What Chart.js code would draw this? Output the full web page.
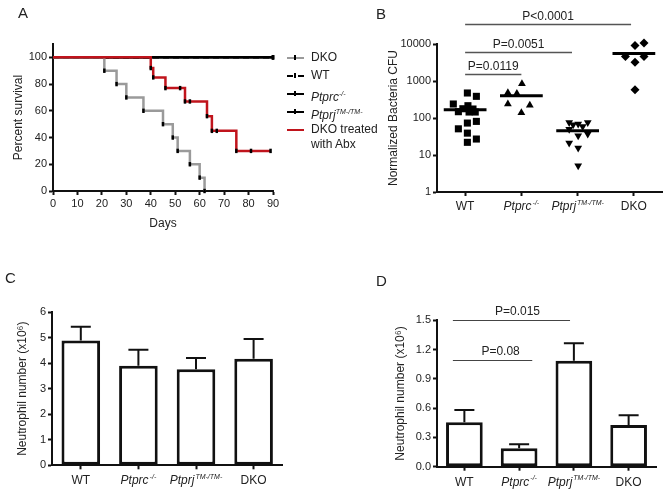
<!DOCTYPE html>
<html>
<head>
<meta charset="utf-8">
<script src="https://cdn.jsdelivr.net/npm/chart.js@4.4.1/dist/chart.umd.min.js"></script>
<style>
  body { margin: 0; background: #fff; }
  #wrap { position: relative; width: 667px; height: 494px; overflow: hidden;
          font-family: "Liberation Sans", Arial, sans-serif; color: #222; }
  canvas { position: absolute; }
  .letter { position: absolute; font-size: 15px; line-height: 15px; }
  #legendA { position: absolute; left: 287px; top: 49px; font-size: 12px; z-index: 5; }
  .lg { position: relative; height: 18px; line-height: 18px; white-space: nowrap; }
  .lg .sym { position: absolute; left: 0; top: 8px; width: 17px; height: 0; }
  .lg .sym b { position: absolute; left: 7px; top: -4px; width: 2px; height: 5px; background: #000; }
  .lg .txt { position: absolute; left: 24px; top: 0; line-height: 15px; padding-top: 1px; }
  .lg sup { font-size: 7px; }
</style>
</head>
<body>
<div id="wrap">
  <canvas id="chartA" width="290" height="240" style="left:0;top:0"></canvas>
  <canvas id="chartB" width="327" height="240" style="left:340px;top:0"></canvas>
  <canvas id="chartC" width="300" height="247" style="left:0;top:247px"></canvas>
  <canvas id="chartD" width="327" height="247" style="left:340px;top:247px"></canvas>
  <div class="letter" style="left:18px;top:5px">A</div>
  <div class="letter" style="left:376px;top:6px">B</div>
  <div class="letter" style="left:5px;top:270px">C</div>
  <div class="letter" style="left:376px;top:273px">D</div>
  <div id="legendA"></div>
</div>
<script>
// ---- data ----
// genotype groups (x categories of B, C, D)
const groupNames = ['WT', 'Ptprc', 'Ptprj', 'DKO'];
const groupSups = ['', '-/-', 'TM-/TM-', ''];
const groupItalic = [false, true, true, false];

// A: survival curves (days, percent)
const survNames = ['DKO', 'WT', 'Ptprc', 'Ptprj', 'DKO treated\nwith Abx'];
const survSups = ['', '', '-/-', 'TM-/TM-', ''];
const dkoDays = [0, 21, 26, 30, 37, 45, 49, 51, 56, 60, 62];
const dkoSurv = [100, 90, 80, 70, 60, 50, 40, 30, 20, 10, 0];
const wtDays = [0, 90];
const wtSurv = [100, 100];
const ptprcDays = [0, 90];
const ptprcSurv = [100, 100];
const ptprjDays = [0, 90];
const ptprjSurv = [100, 100];
const abxDays = [0, 40, 41, 46, 52, 54, 56, 63, 65, 67, 75, 81, 89];
const abxSurv = [100, 92, 85, 77, 77, 67, 67, 56, 45, 45, 30, 30, 30];
const dayTicks = [0, 10, 20, 30, 40, 50, 60, 70, 80, 90];
const survTicks = [0, 20, 40, 60, 80, 100];

// B: normalized bacteria CFU per mouse, jitter in category units
const cfuWT = [474, 385, 239, 215, 178, 175, 148, 145, 145, 81, 73, 51, 39, 27, 22];
const jitWT = [0.04, 0.2, -0.21, 0.05, -0.04, 0.14, -0.12, 0.07, 0.18, 0.2, 0.04, -0.12, 0.04, 0.2, 0.04];
const cfuPtprc = [840, 480, 460, 240, 220, 138];
const jitPtprc = [0.01, -0.24, -0.08, -0.24, 0.15, 0];
const cfuPtprj = [76, 66, 69, 59, 76, 50, 33, 37, 21, 15.5, 5.1];
const jitPtprj = [-0.15, -0.08, 0.01, 0.09, 0.18, -0.15, 0.01, 0.18, -0.15, 0.01, 0.01];
const cfuDKO = [9100, 10700, 4600, 4600, 3200, 580];
const jitDKO = [0.02, 0.18, -0.15, 0.18, 0.02, 0.02];
const cfuMeans = [168, 400, 45, 5500];
const cfuTicks = [1, 10, 100, 1000, 10000];

// C: bone marrow neutrophils (x10^6), mean and SEM
const neuC = [4.88, 3.9, 3.76, 4.17];
const semC = [0.54, 0.62, 0.44, 0.77];
// D: neutrophils (x10^6), mean and SEM
const neuD = [0.455, 0.19, 1.086, 0.427];
const semD = [0.125, 0.04, 0.18, 0.1];

const FONT = '"Liberation Sans", Arial, sans-serif';
const RED = '#c0141c';
const GREY = '#9a9a9a';
Chart.defaults.font.family = FONT;
Chart.defaults.color = '#222';
Chart.defaults.animation = false;
Chart.defaults.plugins.legend.display = false;
Chart.defaults.plugins.tooltip.enabled = false;

// ---- plugins ----
// x labels with italic names and superscripts
const richTicks = {
  id: 'richTicks',
  afterDraw(chart, args, opts) {
    if (!opts.at) return;
    const ctx = chart.ctx, xs = chart.scales.x;
    ctx.save();
    ctx.fillStyle = '#222';
    ctx.textBaseline = 'middle';
    ctx.textAlign = 'left';
    groupNames.forEach((name, i) => {
      const it = groupItalic[i] ? 'italic ' : '';
      const main = it + '12px ' + FONT, small = it + '7px ' + FONT;
      ctx.font = main;
      const w1 = ctx.measureText(name).width;
      ctx.font = small;
      const w2 = groupSups[i] ? ctx.measureText(groupSups[i]).width + 1 : 0;
      const x0 = xs.getPixelForValue(opts.at[i]) - (w1 + w2) / 2;
      const y = chart.chartArea.bottom + opts.offset;
      ctx.font = main;
      ctx.fillText(name, x0, y);
      if (w2) {
        ctx.font = small;
        ctx.fillText(groupSups[i], x0 + w1 + 1, y - 4);
      }
    });
    ctx.restore();
  }
};

// significance lines with P values
const brackets = {
  id: 'brackets',
  afterDraw(chart, args, opts) {
    if (!opts.items) return;
    const ctx = chart.ctx, xs = chart.scales.x, ys = chart.scales.y;
    ctx.save();
    ctx.strokeStyle = opts.color;
    ctx.lineWidth = opts.width;
    ctx.fillStyle = '#222';
    ctx.font = '12px ' + FONT;
    ctx.textAlign = 'center';
    ctx.textBaseline = 'alphabetic';
    opts.items.forEach(b => {
      const x1 = xs.getPixelForValue(b.from), x2 = xs.getPixelForValue(b.to);
      const py = Math.round(ys.getPixelForValue(b.y)) + 0.5;
      ctx.beginPath();
      ctx.moveTo(x1, py);
      ctx.lineTo(x2, py);
      ctx.stroke();
      ctx.fillText(b.text, (x1 + x2) / 2 + (b.dx || 0), py - opts.gap);
    });
    ctx.restore();
  }
};

// upper SEM bars on top of the bars
const errorBars = {
  id: 'errorBars',
  afterDatasetsDraw(chart, args, opts) {
    if (!opts.sem) return;
    const ctx = chart.ctx, ys = chart.scales.y;
    const vals = chart.data.datasets[0].data;
    ctx.save();
    ctx.strokeStyle = '#111';
    ctx.lineWidth = 2;
    chart.getDatasetMeta(0).data.forEach((bar, i) => {
      const top = ys.getPixelForValue(vals[i] + opts.sem[i]);
      ctx.beginPath();
      ctx.moveTo(bar.x, bar.y);
      ctx.lineTo(bar.x, top);
      ctx.moveTo(bar.x - opts.cap / 2, top);
      ctx.lineTo(bar.x + opts.cap / 2, top);
      ctx.stroke();
    });
    ctx.restore();
  }
};

function axisBase() {
  return {
    border: { color: '#111', width: 2 },
    grid: { drawOnChartArea: false, drawTicks: true, tickLength: 4, tickColor: '#111', tickWidth: 2 },
    ticks: { font: { size: 11 }, color: '#222', padding: 2 }
  };
}

// ---- A: survival ----
const toXY = (d, s) => d.map((x, i) => ({ x: x, y: s[i] }));
const survData = [toXY(dkoDays, dkoSurv), toXY(wtDays, wtSurv), toXY(ptprcDays, ptprcSurv),
                  toXY(ptprjDays, ptprjSurv), toXY(abxDays, abxSurv)];
const survColors = [GREY, '#000', '#000', '#000', RED];
const survDash = [[], [6, 4], [], [], []];
const survOrder = [1, 1, 1, 1, 0];

const ayA = axisBase();
ayA.min = 0; ayA.max = 110;
ayA.afterBuildTicks = s => { s.ticks = survTicks.map(v => ({ value: v })); };
ayA.afterFit = s => { s.width = 53; };
ayA.title = { display: true, text: 'Percent survival', font: { size: 12 }, padding: { top: 11, bottom: 0 } };
const axA = axisBase();
axA.type = 'linear'; axA.min = 0; axA.max = 90;
axA.afterBuildTicks = s => { s.ticks = dayTicks.map(v => ({ value: v })); };
axA.afterFit = s => { s.height = 49; };
axA.title = { display: true, text: 'Days', font: { size: 12 }, padding: { top: 0, bottom: 9 } };

new Chart(document.getElementById('chartA'), {
  type: 'line',
  data: {
    datasets: survData.map((d, i) => ({
      data: d,
      order: survOrder[i],
      borderColor: survColors[i],
      borderDash: survDash[i],
      borderWidth: 2.5,
      stepped: true,
      fill: false,
      pointStyle: 'line',
      rotation: 90,
      pointRadius: ctx => ctx.dataIndex === 0 ? 0 : 2.2,
      pointBorderColor: '#000',
      pointBorderWidth: 2.5,
      clip: false
    }))
  },
  options: {
    responsive: false,
    layout: { padding: { left: 0, top: 44, right: 17, bottom: 0 } },
    scales: { x: axA, y: ayA }
  }
});

// legend of A
const legendA = document.getElementById('legendA');
survNames.forEach((name, i) => {
  const row = document.createElement('div');
  row.className = 'lg';
  const ital = survSups[i] ? '<i>' + name + '</i><sup><i>' + survSups[i] + '</i></sup>' : name.replace('\n', '<br>');
  const style = survDash[i].length ? 'dashed' : 'solid';
  const tick = survColors[i] === RED ? '' : '<b></b>';
  row.innerHTML = '<span class="sym" style="border-top:2.5px ' + style + ' ' + survColors[i] + '">' + tick +
                  '</span><span class="txt">' + ital + '</span>';
  legendA.appendChild(row);
});

// ---- B: bacteria CFU ----
const groupsB = [cfuWT, cfuPtprc, cfuPtprj, cfuDKO];
const jitB = [jitWT, jitPtprc, jitPtprj, jitDKO];
const shapesB = ['rect', 'triangle', 'triangle', 'rectRot'];
const rotB = [0, 0, 180, 0];
const radB = [5, 4.5, 4.5, 4.5];
const scatterSets = groupsB.map((vals, g) => ({
  type: 'scatter',
  data: vals.map((v, i) => ({ x: g + 1 + jitB[g][i], y: v })),
  pointStyle: shapesB[g],
  rotation: rotB[g],
  pointRadius: radB[g],
  pointBackgroundColor: '#000',
  pointBorderWidth: 0,
  clip: false
}));
const meanSets = cfuMeans.map((m, g) => ({
  type: 'line',
  data: [{ x: g + 1 - 0.38, y: m }, { x: g + 1 + 0.38, y: m }],
  borderColor: '#000',
  borderWidth: 3,
  pointRadius: 0,
  clip: false
}));

const ayB = axisBase();
ayB.type = 'logarithmic'; ayB.min = 1; ayB.max = 10000;
ayB.afterBuildTicks = s => { s.ticks = cfuTicks.map(v => ({ value: v })); };
ayB.ticks.callback = v => String(v);
ayB.afterFit = s => { s.width = 97; };
ayB.title = { display: true, text: 'Normalized Bacteria CFU', font: { size: 12 }, padding: { top: 46, bottom: 0 } };
const axB = axisBase();
axB.type = 'linear'; axB.min = 0.5; axB.max = 4.5;
axB.afterBuildTicks = s => { s.ticks = groupNames.map((n, i) => ({ value: i + 1 })); };
axB.ticks.display = false;
axB.afterFit = s => { s.height = 48; };

new Chart(document.getElementById('chartB'), {
  type: 'scatter',
  data: { datasets: meanSets.concat(scatterSets) },
  options: {
    responsive: false,
    layout: { padding: { left: 0, top: 44, right: 4, bottom: 0 } },
    scales: { x: axB, y: ayB },
    plugins: {
      richTicks: { at: [1, 2, 3, 4], offset: 15 },
      brackets: {
        color: '#555', width: 1.5, gap: 5,
        items: [
          { from: 1, to: 2, y: 1550, text: 'P=0.0119' },
          { from: 1, to: 2.9, y: 6000, text: 'P=0.0051' },
          { from: 1, to: 3.95, y: 35000, text: 'P<0.0001' }
        ]
      }
    }
  },
  plugins: [richTicks, brackets]
});

// ---- C and D: neutrophil bars ----
function barChart(id, values, sem, yMax, yStep, decimals, pad, yWidth, xHeight, titlePad, bracketItems) {
  const ay = axisBase();
  ay.min = 0; ay.max = yMax;
  ay.ticks.stepSize = yStep;
  ay.ticks.callback = v => v.toFixed(decimals);
  ay.afterFit = s => { s.width = yWidth; };
  ay.title = { display: true, text: 'Neutrophil number (x10\u2076)', font: { size: 12 }, padding: { top: titlePad, bottom: 0 } };
  const ax = axisBase();
  ax.type = 'category';
  ax.offset = true;
  ax.grid.offset = false;
  ax.ticks.display = false;
  ax.afterFit = s => { s.height = xHeight; };
  const plugins = { richTicks: { at: [0, 1, 2, 3], offset: 15.5 }, errorBars: { sem: sem, cap: 20 } };
  if (bracketItems) plugins.brackets = { color: '#444', width: 1, gap: 6, items: bracketItems };
  new Chart(document.getElementById(id), {
    type: 'bar',
    data: {
      labels: groupNames,
      datasets: [{
        data: values,
        backgroundColor: '#fff',
        borderColor: '#111',
        borderWidth: 3,
        borderSkipped: false,
        barPercentage: 0.67,
        categoryPercentage: 1
      }]
    },
    options: {
      responsive: false,
      layout: { padding: pad },
      scales: { x: ax, y: ay },
      plugins: plugins
    },
    plugins: [richTicks, errorBars, brackets]
  });
}

barChart('chartC', neuC, semC, 6, 1, 0, { left: 0, top: 65, right: 17.6, bottom: 0 }, 52, 28.7, 15.8, null);
barChart('chartD', neuD, semD, 1.5, 0.3, 1, { left: 0, top: 73.3, right: 11, bottom: 0 }, 97, 27.3, 53.8, [
  { from: -0.21, to: 1.24, y: 1.093, text: 'P=0.08', dx: 8 },
  { from: -0.21, to: 1.93, y: 1.5, text: 'P=0.015', dx: 6 }
]);
</script>
</body>
</html>
